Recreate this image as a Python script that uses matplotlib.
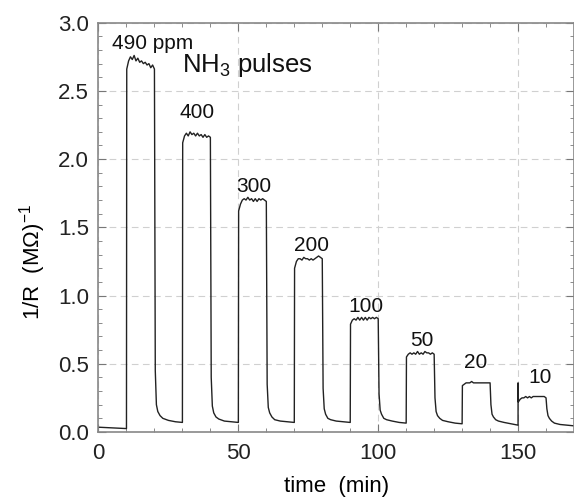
import numpy as np
import matplotlib
matplotlib.use("Agg")
import matplotlib.pyplot as plt
from matplotlib.ticker import MultipleLocator

plt.rcParams['font.family'] = ['Liberation Sans', 'DejaVu Sans']
plt.rcParams['mathtext.default'] = 'regular'

# pulse timing (min) and labels
t_on = [10, 30, 50, 70, 90, 110, 130, 150]
t_off = [20, 40, 60, 80, 100, 120, 140, 160]
conc_labels = ['490 ppm', '400', '300', '200', '100', '50', '20', '10']
label_x = [19.3, 35.2, 55.6, 76, 95.5, 115.6, 135, 157.7]
label_y = [2.85, 2.34, 1.80, 1.37, 0.92, 0.67, 0.51, 0.40]

# initial baseline before first pulse
base0_t = [0, 5, 10]
base0_y = [0.035, 0.030, 0.025]

# plateau readings (1/R) across each pulse, evenly over the on-time
plateaus = [
    [2.66, 2.72, 2.75, 2.73, 2.76, 2.72, 2.74, 2.71, 2.72, 2.70, 2.71, 2.69, 2.70, 2.67, 2.69, 2.66],
    [2.12, 2.17, 2.19, 2.17, 2.20, 2.18, 2.19, 2.17, 2.19, 2.17, 2.18, 2.16, 2.18, 2.16, 2.17, 2.16],
    [1.62, 1.67, 1.70, 1.71, 1.70, 1.72, 1.70, 1.71, 1.69, 1.71, 1.69, 1.71, 1.70, 1.71, 1.70, 1.69],
    [1.20, 1.25, 1.27, 1.27, 1.26, 1.28, 1.27, 1.27, 1.26, 1.27, 1.26, 1.27, 1.28, 1.29, 1.28, 1.27],
    [0.79, 0.82, 0.83, 0.82, 0.84, 0.82, 0.84, 0.82, 0.84, 0.82, 0.84, 0.83, 0.84, 0.83, 0.84, 0.83],
    [0.55, 0.57, 0.58, 0.57, 0.58, 0.57, 0.59, 0.57, 0.58, 0.57, 0.59, 0.58, 0.58, 0.57, 0.58, 0.57],
    [0.34, 0.35, 0.36, 0.36, 0.36, 0.37, 0.36, 0.36, 0.36, 0.36, 0.36, 0.36, 0.36, 0.36, 0.36, 0.36],
    [0.22, 0.24, 0.25, 0.25, 0.26, 0.25, 0.26, 0.25, 0.26, 0.26, 0.26, 0.26, 0.26, 0.26, 0.26, 0.25],
]

# recovery after gas off: time after t_off (min) and readings
rec_dt = [0, 0.3, 0.7, 1.2, 2, 3, 5, 7.5, 10]
recovery = [
    [0.45, 0.20, 0.15, 0.12, 0.10, 0.085, 0.075, 0.070],
    [0.40, 0.19, 0.14, 0.11, 0.095, 0.080, 0.075, 0.070],
    [0.35, 0.18, 0.14, 0.11, 0.090, 0.080, 0.075, 0.070],
    [0.32, 0.17, 0.13, 0.10, 0.090, 0.080, 0.075, 0.070],
    [0.28, 0.16, 0.13, 0.10, 0.090, 0.080, 0.070, 0.065],
    [0.25, 0.15, 0.12, 0.10, 0.085, 0.075, 0.065, 0.060],
    [0.20, 0.13, 0.11, 0.09, 0.080, 0.070, 0.060, 0.050],
    [0.17, 0.12, 0.10, 0.08, 0.065, 0.055, 0.050, 0.045],
]

# overshoot spike at the start of the 10 ppm pulse
spike_dt = [0.0, 0.08]
spike_y = [0.36, 0.22]

# build trace
t = list(base0_t)
y = list(base0_y)
for i in range(len(t_on)):
    pl = plateaus[i]
    if i == len(t_on) - 1:
        t += [t_on[i] + d for d in spike_dt]
        y += spike_y
    tp = np.linspace(t_on[i] + 0.1, t_off[i], len(pl))
    t += list(tp)
    y += pl
    t += [t_off[i] + d for d in rec_dt[1:]]
    y += recovery[i]

fig = plt.figure(figsize=(5.74, 4.99), dpi=100)
ax = fig.add_axes([0.1716, 0.1343, 0.8284, 0.8202])
ax.plot(t, y, color='#222222', lw=1.0)

ax.set_xlim(0, 170)
ax.set_ylim(0, 3.0)
ax.xaxis.set_major_locator(MultipleLocator(50))
ax.xaxis.set_minor_locator(MultipleLocator(10))
ax.yaxis.set_major_locator(MultipleLocator(0.5))
ax.yaxis.set_minor_locator(MultipleLocator(0.1))
ax.yaxis.set_major_formatter(matplotlib.ticker.FormatStrFormatter('%.1f'))
ax.tick_params(which='both', direction='in', top=True, right=True, colors='#777777',
               labelcolor='#222222', labelsize=16)
ax.tick_params(which='major', length=6)
ax.tick_params(which='minor', length=3)
ax.tick_params(axis='x', pad=8)
ax.tick_params(axis='y', pad=7)
for s in ax.spines.values():
    s.set_color('#888888')
    s.set_linewidth(1.2)
ax.grid(True, which='major', ls=(0, (6, 4)), color='#d0d0d0', lw=0.8)

ax.set_xlabel('time  (min)', fontsize=16, va='center')
ax.xaxis.set_label_coords(0.5, -0.132)
ax.set_ylabel('1/R  (M\u03a9)$^{-1}$', fontsize=16, va='center')
ax.yaxis.set_label_coords(-0.138, 0.415)

for lab, lx, ly in zip(conc_labels, label_x, label_y):
    ax.text(lx, ly, lab, ha='center', va='center', fontsize=15, color='#111111')
ax.text(29.8, 2.69, 'NH$_3$ pulses', ha='left', va='center', fontsize=18.5, color='#111111')

fig.savefig('out.png', dpi=100)
